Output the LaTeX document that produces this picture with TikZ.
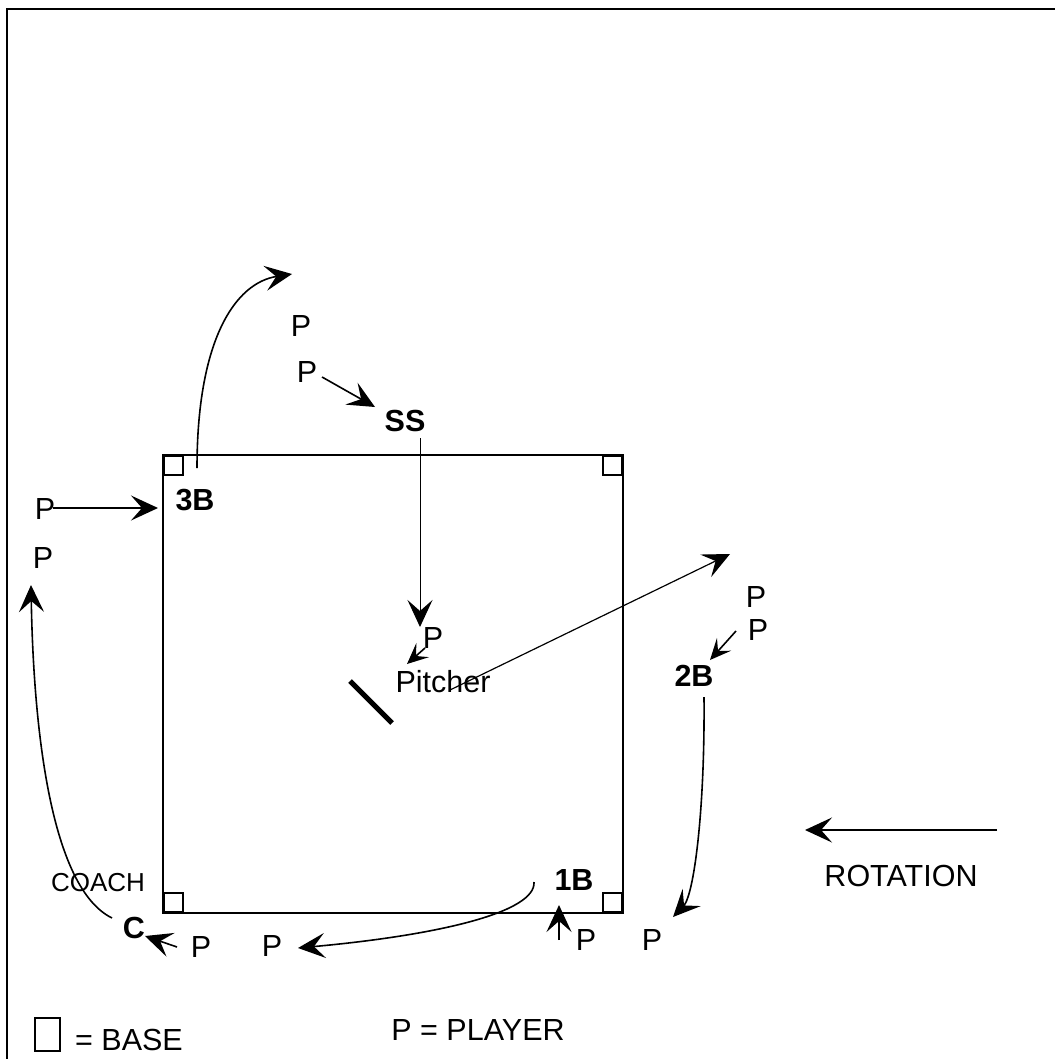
\documentclass[tikz,border=0pt]{standalone}
\usepackage{fontspec}
\setmainfont{Liberation Sans}
\usetikzlibrary{arrows.meta, positioning}

\tikzset{
    txt/.style={inner sep=0pt, font=\fontsize{30.5}{32}\selectfont},
    bld/.style={inner sep=0pt, font=\fontsize{30.5}{32}\selectfont\bfseries},
    base/.style={draw, line width=1.6pt, minimum size=19pt, inner sep=0pt},
    run/.style={line width=1.6pt, -{Stealth[length=27pt, width=25pt, inset=11pt]}},
    short/.style={line width=1.6pt, -{Stealth[length=21pt, width=19pt, inset=9pt]}},
}

\begin{document}
\begin{tikzpicture}[x=1pt, y=-1pt]
    \useasboundingbox (0,0) rectangle (1055,1059);
    % frame
    \draw[line width=2.5pt] (7,1059) -- (7,9) -- (1055,9);

    % infield and bases
    \draw[line width=1.8pt] (163,455) rectangle (623,913);
    \node[base, anchor=north west] (base3) at (163,455) {};
    \node[base, anchor=north east] (base2) at (623,455) {};
    \node[base, anchor=south west] (home) at (163,913) {};
    \node[base, anchor=south east] (base1) at (623,913) {};

    % positions
    \node[bld] (t3b) at (195,500) {3B};
    \node[bld] (ss) at (405,421) {SS};
    \node[bld] (t2b) at (694,676) {2B};
    \node[bld] (t1b) at (574,880) {1B};
    \node[bld] (c) at (134,928) {C};
    \node[inner sep=0pt, font=\fontsize{26}{28}\selectfont] (coach) at (98,883) {COACH};
    \node[txt] (pitcher) at (443,682) {Pitcher};
    \draw[line width=5pt] (350,681) -- (392,723);

    % players
    \node[txt] (pa) at (301,326) {P};
    \node[txt] (pb) at (307,372) {P};
    \node[txt] (pc) at (433,638) {P};
    \node[txt] (pd) at (756,597) {P};
    \node[txt] (pe) at (758,630) {P};
    \node[txt] (pf) at (652,940) {P};
    \node[txt] (pg) at (586,940) {P};
    \node[txt] (ph) at (272,946) {P};
    \node[txt] (pi) at (201,947) {P};
    \node[txt] (pj) at (43,558) {P};
    \node[txt] (pk) at (45,509) {P};

    % ends of the runs
    \coordinate (k1) at (53,508);
    \coordinate (k2) at (158,508);
    \coordinate (b1) at (322,377);
    \coordinate (b2) at (375,407);
    \coordinate (s1) at (420,438);
    \coordinate (s2) at (420,627);
    \coordinate (c1) at (425,648);
    \coordinate (c2) at (407,664);
    \coordinate (w1) at (450,690);
    \coordinate (w2) at (730,554);
    \coordinate (e1) at (736,631);
    \coordinate (e2) at (710,660);
    \coordinate (d1) at (704,697);
    \coordinate (d2) at (673,917);
    \coordinate (g1) at (559,940);
    \coordinate (g2) at (559,905);
    \coordinate (f1) at (534,882);
    \coordinate (f2) at (298,948);
    \coordinate (i1) at (177,947);
    \coordinate (i2) at (145,936);
    \coordinate (h1) at (112,918);
    \coordinate (h2) at (31,585);
    \coordinate (t1) at (197,468);
    \coordinate (t2) at (292,274);

    \draw[run] (k1) -- (k2);
    \draw[run] (b1) -- (b2);
    \draw[run, line width=1pt] (s1) -- (s2);
    \draw[short] (c1) -- (c2);
    \draw[run, line width=1.2pt] (w1) -- (w2);
    \draw[short] (e1) -- (e2);
    \draw[run] (d1) .. controls (705,810) and (694,895) .. (d2);
    \draw[run] (g1) -- (g2);
    \draw[run] (f1) .. controls (536,912) and (440,935) .. (f2);
    \draw[run] (i1) -- (i2);
    \draw[run] (h1) .. controls (45,885) and (33,700) .. (h2);
    \draw[run] (t1) .. controls (197,340) and (235,283) .. (t2);

    % rotation
    \node[txt] (rot) at (901,876) {ROTATION};
    \coordinate (r1) at (997,830);
    \coordinate (r2) at (805,830);
    \draw[run] (r1) -- (r2);

    % legend
    \node[draw, line width=1.6pt, minimum width=25pt, minimum height=33pt, inner sep=0pt] (key) at (47.5,1034.5) {};
    \node[txt, anchor=west] (keybase) at (75,1040) {= BASE};
    \node[txt] (keyplayer) at (478,1030) {P = PLAYER};
\end{tikzpicture}
\end{document}
